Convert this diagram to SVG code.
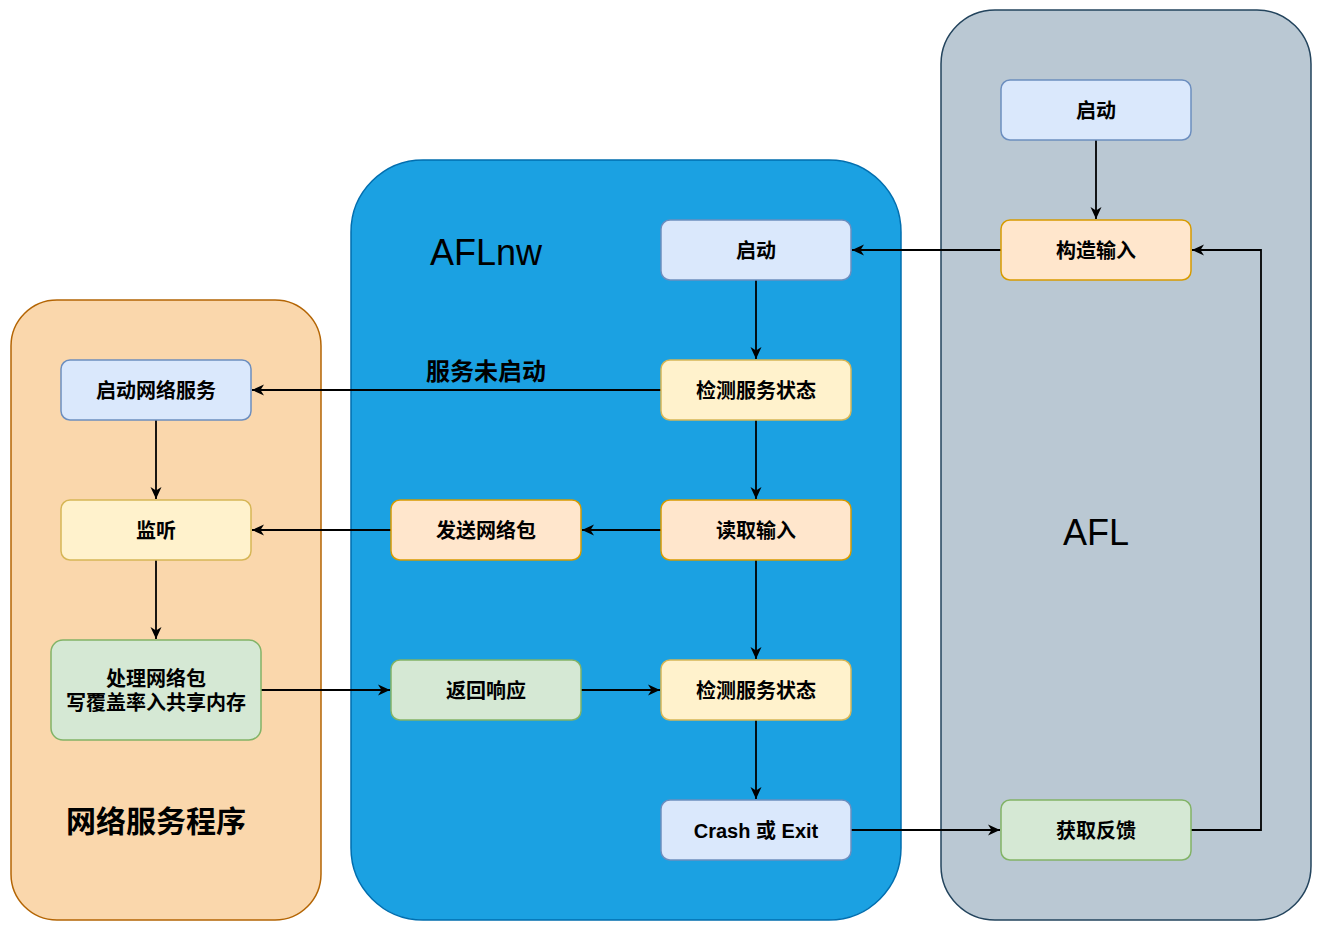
<svg xmlns="http://www.w3.org/2000/svg" width="1322" height="933" viewBox="0 0 1322 933">
<defs>
<marker id="arr" markerUnits="userSpaceOnUse" markerWidth="13" markerHeight="12" refX="12" refY="6" orient="auto">
<path d="M0,0.5 L12,6 L0,11.5 L3.5,6 Z" fill="#000"/>
</marker>
<style>
.blue{fill:#dae8fc;stroke:#6c8ebf;stroke-width:1.5}
.orange{fill:#ffe6cc;stroke:#d79b00;stroke-width:1.5}
.yellow{fill:#fff2cc;stroke:#d6b656;stroke-width:1.5}
.green{fill:#d5e8d4;stroke:#82b366;stroke-width:1.5}
.t{font-family:"Liberation Sans","Noto Sans CJK SC",sans-serif;font-weight:bold;font-size:20px;fill:#000;text-anchor:middle;dominant-baseline:central}
.big{font-family:"Liberation Sans","Noto Sans CJK SC",sans-serif;font-size:36px;fill:#000;text-anchor:middle;dominant-baseline:central}
.e{fill:none;stroke:#000;stroke-width:1.8;marker-end:url(#arr)}
</style>
</defs>
<g id="containers">
<g id="c-net"><rect x="11" y="300" width="310" height="620" rx="46" fill="#fad7ac" stroke="#b46504" stroke-width="1.5"/>
<text class="t" x="156" y="821" style="font-size:30px">网络服务程序</text></g>
<g id="c-aflnw"><rect x="351" y="160" width="550" height="760" rx="72" fill="#1ba1e2" stroke="#006eaf" stroke-width="1.5"/>
<text class="big" x="486" y="252">AFLnw</text></g>
<g id="c-afl"><rect x="941" y="10" width="370" height="910" rx="54" fill="#bac8d3" stroke="#23445d" stroke-width="1.5"/>
<text class="big" x="1096" y="532">AFL</text></g>
</g>
<g id="connectors">
<path class="e" d="M1096,140 L1096,219"/>
<path class="e" d="M1001,250 L852,250"/>
<path class="e" d="M756,280 L756,359"/>
<path class="e" d="M661,390 L252,390"/>
<text class="t" x="486" y="371" style="font-size:24px">服务未启动</text>
<path class="e" d="M756,420 L756,499"/>
<path class="e" d="M661,530 L582,530"/>
<path class="e" d="M391,530 L252,530"/>
<path class="e" d="M156,420 L156,499"/>
<path class="e" d="M156,560 L156,639"/>
<path class="e" d="M261,690 L390,690"/>
<path class="e" d="M581,690 L660,690"/>
<path class="e" d="M756,560 L756,659"/>
<path class="e" d="M756,720 L756,799"/>
<path class="e" d="M851,830 L1000,830"/>
<path class="e" d="M1191,830 L1261,830 L1261,250 L1192,250"/>
</g>
<g id="n-afl-start"><rect class="blue" x="1001" y="80" width="190" height="60" rx="9"/><text class="t" x="1096" y="111">启动</text></g>
<g id="n-build"><rect class="orange" x="1001" y="220" width="190" height="60" rx="9"/><text class="t" x="1096" y="251">构造输入</text></g>
<g id="n-feedback"><rect class="green" x="1001" y="800" width="190" height="60" rx="9"/><text class="t" x="1096" y="831">获取反馈</text></g>
<g id="n-nw-start"><rect class="blue" x="661" y="220" width="190" height="60" rx="9"/><text class="t" x="756" y="251">启动</text></g>
<g id="n-check1"><rect class="yellow" x="661" y="360" width="190" height="60" rx="9"/><text class="t" x="756" y="391">检测服务状态</text></g>
<g id="n-read"><rect class="orange" x="661" y="500" width="190" height="60" rx="9"/><text class="t" x="756" y="531">读取输入</text></g>
<g id="n-check2"><rect class="yellow" x="661" y="660" width="190" height="60" rx="9"/><text class="t" x="756" y="691">检测服务状态</text></g>
<g id="n-crash"><rect class="blue" x="661" y="800" width="190" height="60" rx="9"/><text class="t" x="756" y="831">Crash 或 Exit</text></g>
<g id="n-send"><rect class="orange" x="391" y="500" width="190" height="60" rx="9"/><text class="t" x="486" y="531">发送网络包</text></g>
<g id="n-resp"><rect class="green" x="391" y="660" width="190" height="60" rx="9"/><text class="t" x="486" y="691">返回响应</text></g>
<g id="n-svc"><rect class="blue" x="61" y="360" width="190" height="60" rx="9"/><text class="t" x="156" y="391">启动网络服务</text></g>
<g id="n-listen"><rect class="yellow" x="61" y="500" width="190" height="60" rx="9"/><text class="t" x="156" y="531">监听</text></g>
<g id="n-proc"><rect class="green" x="51" y="640" width="210" height="100" rx="12"/><text class="t" x="156" y="679">处理网络包</text><text class="t" x="156" y="703">写覆盖率入共享内存</text></g>
</svg>
